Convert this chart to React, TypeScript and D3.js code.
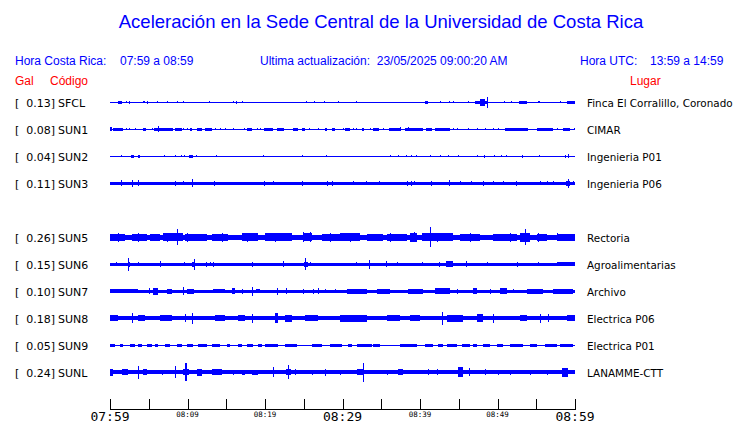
import React from "react";
import * as d3 from "d3";

// ---------- data ----------
const titleText = "Aceleración en la Sede Central de la Universidad de Costa Rica";
const localRange = "07:59 a 08:59";
const utcRange = "13:59 a 14:59";
const lastUpdate = "23/05/2025 09:00:20 AM";

const stationCodes = ["SFCL", "SUN1", "SUN2", "SUN3", "SUN5", "SUN6", "SUN7", "SUN8", "SUN9", "SUNL"];
const stationPlaces = [
  "Finca El Corralillo, Coronado",
  "CIMAR",
  "Ingenieria P01",
  "Ingenieria P06",
  "Rectoria",
  "Agroalimentarias",
  "Archivo",
  "Electrica P06",
  "Electrica P01",
  "LANAMME-CTT",
];
const galValues = [0.13, 0.08, 0.04, 0.11, 0.26, 0.15, 0.1, 0.18, 0.05, 0.24];
// row slot of each station (SUN4 slot is empty)
const stationSlots = [0, 1, 2, 3, 5, 6, 7, 8, 9, 10];
// background noise half-amplitude (relative units)
const baseAmps = [0.5, 0.5, 0.5, 1.7, 2.5, 1.7, 1.4, 2.2, 0.5, 1.8];

// events: [start minute, end minute, half-amplitude]
const evSFCL = [
  [1.0, 1.5, 1.3], [2.1, 2.1, 1], [2.5, 2.5, 1.5], [4.3, 4.5, 1.2], [4.8, 4.9, 1.3], [6.1, 6.1, 1.2],
  [7.4, 7.4, 1.2], [8.6, 8.6, 1], [9.4, 9.4, 0.8], [12.8, 12.8, 1], [15.9, 15.9, 1], [16.3, 16.4, 1.3],
  [17.0, 17.0, 0.8], [25.3, 25.3, 1], [26.3, 26.3, 1.2], [27.6, 27.6, 0.8], [29.4, 29.4, 0.8],
  [31.7, 31.7, 0.8], [40.6, 41.0, 1.3], [42.6, 42.6, 0.8], [43.7, 43.7, 1.2], [44.3, 44.3, 0.8],
  [46.2, 46.2, 1.2], [47.1, 48.6, 1.5], [47.7, 48.4, 3.3], [48.6, 48.6, 5.5], [50.8, 50.8, 0.8],
  [51.7, 51.7, 0.8], [52.8, 53.8, 1.3], [55.2, 55.5, 1.2], [58.1, 58.1, 0.8], [59.0, 60, 1.5],
];
const evSUN1 = [
  [0, 0.3, 2], [0.4, 1.7, 1.3], [2.1, 2.1, 1.2], [2.5, 2.5, 1.2], [3.2, 3.2, 1], [4.3, 4.6, 1.3],
  [5.4, 5.4, 1], [5.7, 8.1, 1.3], [6.2, 6.2, 3], [8.4, 9.3, 1.3], [9.4, 9.4, 1], [9.9, 9.9, 1],
  [10.3, 10.6, 1.3], [11.2, 11.9, 1.3], [12.3, 13.2, 1.3], [13.5, 13.5, 1], [14.2, 14.2, 1],
  [14.8, 14.8, 1], [15.9, 15.9, 1], [17.3, 17.3, 1], [17.7, 18.3, 1.3], [19.0, 19.0, 1], [19.4, 19.4, 1],
  [19.9, 21.0, 1.3], [21.5, 22.5, 1.3], [23.6, 24.3, 1.3], [24.8, 25.2, 1.3], [25.7, 25.7, 1],
  [26.8, 26.8, 1], [27.7, 28.0, 1.3], [28.6, 29.0, 1.3], [30.1, 30.1, 1], [30.3, 31.0, 1.3],
  [31.4, 31.4, 1], [31.7, 31.7, 1], [32.5, 32.8, 1.3], [33.5, 33.5, 1], [33.9, 34.7, 1.3],
  [35.2, 35.2, 1], [36.0, 37.4, 1.3], [37.4, 37.4, 2], [38.1, 40.4, 1.3], [38.5, 38.5, 2],
  [40.8, 41.5, 1.3], [41.9, 43.9, 1.3], [44.3, 44.3, 1], [44.8, 44.8, 1], [46.2, 46.2, 1],
  [47.4, 47.4, 1], [48.4, 48.4, 1], [49.4, 49.4, 1], [50.1, 50.1, 1], [51.0, 53.9, 1.3],
  [55.1, 57.2, 1.3], [57.7, 57.7, 1], [58.5, 59.4, 1.3], [59.9, 60, 1],
];
const evSUN2 = [
  [1.4, 1.4, 1], [2.7, 3.1, 1.3], [3.6, 3.9, 1.3], [7.0, 7.0, 1], [8.4, 8.4, 1], [9.2, 9.2, 1],
  [9.5, 9.5, 1], [10.2, 10.7, 1.3], [11.1, 11.1, 1], [13.7, 13.7, 1], [19.7, 19.7, 1], [24.8, 24.8, 1],
  [27.9, 27.9, 1], [36.1, 36.1, 1], [37.2, 37.2, 1], [38.2, 38.2, 1], [38.8, 38.8, 1], [39.5, 39.5, 1],
  [41.3, 41.3, 1], [42.6, 42.6, 1], [43.6, 43.6, 1.2], [44.9, 44.9, 1.2], [47.4, 47.4, 1.2],
  [48.3, 48.3, 1.3], [49.5, 49.5, 1], [50.5, 50.5, 1], [51.1, 51.1, 1], [53.2, 53.2, 1.3],
  [55.4, 55.4, 1], [58.7, 58.7, 1.3], [59.1, 59.1, 1.8],
];
const evSUN3 = [
  [1.4, 1.4, 3], [2.8, 2.8, 3.5], [3.6, 3.6, 3], [8.4, 8.4, 2.5], [9.4, 9.4, 2.2], [10.6, 10.6, 4],
  [13.4, 13.4, 2.5], [19.9, 19.9, 2.3], [21.0, 21.0, 2.2], [24.8, 24.8, 2.3], [28.0, 28.0, 2.3],
  [28.6, 28.6, 2.3], [31.4, 31.4, 2.2], [33.0, 33.0, 2.2], [34.7, 34.7, 2.2], [38.3, 38.3, 2.3],
  [38.8, 38.8, 2.3], [39.2, 39.2, 2.2], [41.4, 41.4, 2.3], [43.7, 43.7, 3], [45.2, 45.2, 2.2],
  [46.6, 46.6, 2.2], [48.1, 48.1, 2.5], [49.4, 49.4, 2.2], [50.7, 50.7, 2.2], [52.4, 52.4, 2.3],
  [55.5, 55.5, 2.2], [56.4, 56.4, 2.2], [57.2, 57.2, 2.2], [58.8, 59.4, 2.5], [59.1, 59.1, 4.5],
  [59.7, 59.7, 2.2],
];
const evSUN5 = [
  [0, 1.9, 3.5], [2.8, 4.8, 3.5], [5.2, 6.5, 3.3], [6.8, 9.4, 3.8], [8.6, 8.6, 8], [9.7, 12.5, 3.4],
  [13.2, 15.2, 3.7], [17.0, 19.1, 3.8], [20.0, 23.5, 3.8], [24.9, 26.1, 4.2], [27.4, 30.3, 3.5],
  [29.7, 32.3, 3.8], [33.2, 35.2, 3.5], [35.7, 38.3, 3.5], [38.7, 39.6, 4.5], [40.3, 44.3, 3.8],
  [41.3, 41.3, 10], [45.2, 47.7, 3.5], [49.4, 52.5, 3.5], [52.9, 54.2, 4.5], [53.5, 53.5, 8],
  [55.1, 56.4, 3.5], [57.7, 60, 3.5],
  [1.0, 1.0, 4.5], [3.6, 3.6, 4.3], [7.4, 7.4, 4.5], [9.9, 9.9, 4.3], [14.5, 14.5, 4.3],
  [17.7, 17.7, 4.5], [21.3, 21.3, 4.3], [24.9, 24.9, 4.8], [25.8, 25.8, 5], [28.4, 28.4, 4.3],
  [31.0, 31.0, 4.3], [36.1, 36.1, 4.3], [39.2, 39.2, 5], [42.2, 42.2, 4.5], [46.5, 46.5, 4.5],
  [51.6, 51.6, 4.3], [55.2, 55.2, 4.3], [57.7, 57.7, 4],
];
const evSUN6 = [
  [0.8, 0.8, 2], [2.3, 2.3, 6.5], [2.3, 2.6, 2.5], [3.6, 3.6, 1.8], [6.5, 6.5, 3], [9.5, 9.5, 2],
  [10.8, 10.8, 5.5], [10.6, 11.0, 2.5], [12.4, 12.4, 2.5], [12.9, 12.9, 2], [13.3, 13.3, 2.5],
  [18.3, 18.3, 2.5], [22.3, 22.3, 3], [25.2, 25.2, 6], [25.0, 25.5, 2.5], [25.8, 25.8, 2],
  [31.7, 31.7, 1.8], [33.4, 33.4, 4.5], [35.6, 35.6, 3], [37.0, 37.0, 2], [40.3, 40.3, 2],
  [42.5, 42.5, 2.5], [43.4, 44.3, 2.8], [45.9, 45.9, 3], [48.6, 48.6, 2], [52.5, 52.5, 2.5],
  [55.2, 55.2, 1.8], [57.7, 60, 2],
];
const evSUN7 = [
  [0, 3.6, 2], [5.0, 5.0, 3], [5.5, 6.2, 3.5], [7.4, 8.0, 2.5], [9.4, 9.4, 4], [9.9, 10.8, 2.5],
  [13.3, 14.8, 2], [15.7, 16.1, 3], [17.0, 17.0, 2.5], [18.3, 18.3, 4.5], [18.8, 19.4, 2.2],
  [21.5, 21.5, 3.5], [22.7, 22.7, 3], [24.9, 24.9, 2.5], [26.2, 26.2, 2.5], [26.8, 26.8, 3],
  [27.7, 27.7, 2], [29.0, 29.0, 2], [30.6, 33.2, 2.3], [34.5, 36.1, 2.5], [38.5, 40.4, 2.5],
  [41.9, 43.9, 3], [44.8, 44.8, 2.5], [46.8, 47.4, 3], [49.0, 49.0, 2.5], [50.3, 51.2, 3],
  [52.0, 52.0, 2], [53.8, 55.9, 2.5], [57.2, 59.7, 2.3],
];
const evSUN8 = [
  [0, 1.0, 3], [2.8, 2.8, 5], [3.6, 4.5, 3], [6.5, 8.0, 3], [9.7, 9.7, 4], [10.6, 10.6, 5.5],
  [13.5, 14.8, 3], [16.5, 17.4, 3], [18.3, 18.3, 4.5], [21.3, 21.7, 5], [22.6, 23.5, 3.5],
  [25.2, 26.8, 3], [29.7, 33.2, 3.5], [35.7, 37.4, 3], [38.7, 40.0, 3], [42.8, 42.8, 6.5],
  [43.5, 45.5, 3.5], [47.4, 48.1, 4], [49.4, 49.4, 4.5], [52.9, 53.8, 3], [55.5, 55.5, 4.5],
  [56.5, 56.5, 4], [59.0, 60, 3],
];
const evSUN9 = [
  [0, 0.6, 1.3], [1.3, 1.7, 1.3], [2.6, 3.2, 1.3], [3.6, 4.1, 1.3], [4.8, 5.4, 1.3], [5.8, 6.2, 1.3],
  [7.1, 7.7, 1.3], [8.6, 9.3, 1.3], [9.9, 10.7, 1.3], [11.4, 12.5, 1.3], [13.2, 14.2, 1.3],
  [15.1, 15.5, 1.3], [16.5, 17.0, 1.3], [17.7, 18.5, 1.3], [19.1, 19.6, 1.3], [20.0, 21.7, 1.3],
  [22.6, 24.1, 1.3], [26.1, 27.4, 1.3], [28.4, 29.9, 1.3], [30.7, 31.2, 1.3], [31.9, 33.8, 1.3],
  [33.9, 34.8, 1.3], [37.4, 39.6, 1.3], [40.6, 41.7, 1.3], [42.3, 43.0, 1.3], [43.5, 44.8, 1.3],
  [45.4, 46.5, 1.3], [46.8, 47.4, 1.3], [48.1, 49.0, 1.3], [49.9, 50.7, 1.3], [51.6, 53.3, 1.3],
  [54.2, 55.1, 1.3], [56.1, 57.7, 1.3], [58.1, 59.7, 1.3],
];
const evSUNL = [
  [0, 0.4, 3.5], [1.5, 2.3, 2.8], [3.6, 3.6, 6.5], [4.3, 4.8, 3], [6.7, 6.7, 2.5], [8.4, 8.4, 6],
  [9.7, 9.9, 9], [9.4, 10.2, 3], [11.2, 11.9, 3.5], [13.2, 14.5, 3], [15.9, 15.9, 2.5],
  [17.0, 17.4, 2.5], [18.3, 19.1, 2.5], [21.0, 21.0, 5], [23.0, 23.0, 7], [22.7, 23.3, 3],
  [23.9, 23.9, 3], [26.1, 26.1, 2.5], [27.7, 27.7, 3.5], [29.7, 29.7, 2.5], [31.9, 32.6, 3],
  [32.6, 32.6, 9.5], [35.7, 35.7, 2.5], [37.2, 37.8, 3], [41.0, 41.0, 3], [42.2, 42.2, 3],
  [44.9, 45.5, 5], [46.3, 46.3, 4], [48.4, 48.4, 3], [50.1, 50.1, 2.5], [51.6, 51.6, 2.5],
  [54.2, 54.2, 2.5], [56.4, 56.4, 2.5], [58.3, 59.1, 4.5],
];
const stationEvents = [evSFCL, evSUN1, evSUN2, evSUN3, evSUN5, evSUN6, evSUN7, evSUN8, evSUN9, evSUNL];

// axis
const tickMinutes = [0, 5, 10, 15, 20, 25, 30, 35, 40, 45, 50, 55, 60];
const majorMinutes = [0, 30, 60];
const majorLabels = ["07:59", "08:29", "08:59"];
const minorMinutes = [10, 20, 40, 50];
const minorLabels = ["08:09", "08:19", "08:39", "08:49"];

// ---------- chart ----------
const W = 740;
const H = 423;
const BLUE = "#0000ff";
const RED = "#ff0000";
const SANS = "'Liberation Sans', Arial, Helvetica, sans-serif";
const DEJAVU = "'DejaVu Sans', sans-serif";
const MONO = "'DejaVu Sans Mono', monospace";

export default function App() {
  const x = d3.scaleLinear().domain([0, 60]).range([110, 575]);
  const rowY = d3.scaleLinear().domain([0, 10]).range([102, 372]);
  const amp = d3.scaleLinear().domain([0, 10]).range([0, 10]);
  const fmt = d3.format(".2f");
  const axisY = 409;

  const rectFor = (cy: number, s: number, e: number, a: number, key: string) => {
    const x0 = Math.round(x(s));
    const x1 = Math.max(Math.round(x(e)), x0 + 1);
    const h = Math.max(1, Math.round(2 * amp(a)));
    const y0 = Math.round(cy - h / 2);
    return <rect key={key} x={x0} y={y0} width={x1 - x0} height={h} fill={BLUE} />;
  };

  return (
    <svg
      width={W}
      height={H}
      style={{ position: "absolute", left: 0, top: 0, background: "#fff" }}
    >
      <rect x={0} y={0} width={W} height={H} fill="#fff" />
      <text x={381} y={28} textAnchor="middle" fill={BLUE} fontFamily={SANS} fontSize={18.5}>
        {titleText}
      </text>

      <g fontFamily={SANS} fontSize={12} fill={BLUE}>
        <text x={15} y={65}>Hora Costa Rica:</text>
        <text x={120} y={65}>{localRange}</text>
        <text x={260} y={65} style={{ whiteSpace: "pre" }}>{"Ultima actualización:  " + lastUpdate}</text>
        <text x={580} y={65}>Hora UTC:</text>
        <text x={650} y={65}>{utcRange}</text>
      </g>
      <g fontFamily={SANS} fontSize={12} fill={RED}>
        <text x={15} y={85}>Gal</text>
        <text x={50} y={85}>Código</text>
        <text x={630} y={85}>Lugar</text>
      </g>

      {stationCodes.map((code, i) => {
        const cy = rowY(stationSlots[i]);
        const base = baseAmps[i];
        return (
          <g key={code}>
            <g fontFamily={DEJAVU} fontSize={11} fill="#000">
              <text x={15} y={cy + 5}>[</text>
              <text x={55} y={cy + 5} textAnchor="end">{fmt(galValues[i]) + "]"}</text>
              <text x={58} y={cy + 5}>{code}</text>
              <text x={587} y={cy + 5} fontSize={10.4}>{stationPlaces[i]}</text>
            </g>
            <g shapeRendering="crispEdges">
              {rectFor(cy, 0, 60, base, "base")}
              {stationEvents[i].map((ev, j) => rectFor(cy, ev[0], ev[1], Math.max(ev[2], base), "e" + j))}
            </g>
          </g>
        );
      })}

      <g shapeRendering="crispEdges" stroke="#000" strokeWidth={1}>
        <line x1={x(0)} x2={x(60) + 1} y1={axisY + 0.5} y2={axisY + 0.5} />
        {tickMinutes.map((m) => (
          <line key={m} x1={Math.round(x(m)) + 0.5} x2={Math.round(x(m)) + 0.5} y1={axisY - 10} y2={axisY} />
        ))}
      </g>
      <g fontFamily={MONO} fill="#000" textAnchor="middle">
        {majorMinutes.map((m, i) => (
          <text key={m} x={x(m)} y={421} fontSize={13}>{majorLabels[i]}</text>
        ))}
        {minorMinutes.map((m, i) => (
          <text key={m} x={x(m)} y={416.5} fontSize={7.5}>{minorLabels[i]}</text>
        ))}
      </g>
    </svg>
  );
}
